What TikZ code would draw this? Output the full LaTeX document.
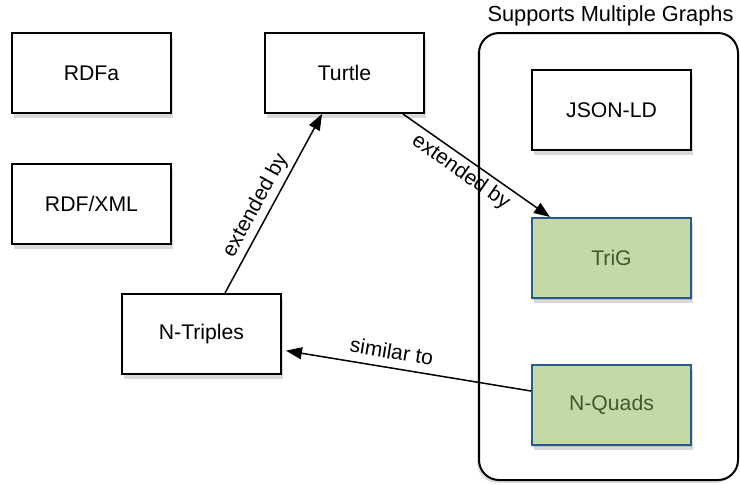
\documentclass[tikz,border=0pt]{standalone}
\usepackage{fontspec}
\setmainfont{Liberation Sans}
\usetikzlibrary{positioning,shadows,arrows.meta}
\definecolor{graphfill}{HTML}{C4D9A8}
\definecolor{graphline}{HTML}{2A5A8C}
\definecolor{graphtext}{HTML}{3F5A2E}
\tikzset{
  format/.style={draw=black, line width=1pt, fill=white,
    minimum width=79.5pt, minimum height=40pt, inner sep=0pt,
    font=\fontsize{10.6}{12}\selectfont,
    drop shadow={shadow xshift=1pt, shadow yshift=-2.5pt, opacity=0.3}},
  multi/.style={format, fill=graphfill, draw=graphline, text=graphtext,
    drop shadow={shadow xshift=0.5pt, shadow yshift=-1pt, opacity=0.3}},
  holder/.style={draw=black, line width=1pt, fill=white, rounded corners=10pt,
    minimum width=129.5pt, minimum height=223.5pt, inner sep=0pt,
    drop shadow={shadow xshift=-1pt, shadow yshift=-1.5pt, opacity=0.25}},
  rel/.style={-{Triangle[length=8pt, width=6pt]}, line width=0.75pt},
  rellabel/.style={font=\fontsize{10.5}{12}\selectfont, inner sep=2pt}
}
\begin{document}
\begin{tikzpicture}[x=0.5pt, y=-0.5pt]
  \useasboundingbox (0,0) rectangle (740,484);
  % container for the multi-graph formats
  \node[holder] (graphs) at (608.5,256.5) {};
  \node[anchor=south, inner sep=0pt, font=\fontsize{10.9}{12}\selectfont]
    (graphslabel) at ([xshift=1pt, yshift=3pt]graphs.north) {Supports Multiple Graphs};
  % formats
  \node[format] (rdfa) at (91.5,73) {RDFa};
  \node[format] (rdfxml) at (91.5,203.5) {RDF/XML};
  \node[format] (turtle) at (344.5,73) {Turtle};
  \node[format] (ntriples) at (201.5,334) {N-Triples};
  \node[format] (jsonld) at (611.5,110) {JSON-LD};
  \node[multi] (trig) at (611.5,258) {TriG};
  \node[multi] (nquads) at (611.5,405) {N-Quads};
  % relations
  \draw[rel] ([xshift=11.75pt]ntriples.north) -- ([xshift=-11.25pt]turtle.south)
    node[rellabel, pos=0.45, sloped, above] {extended by};
  \draw[rel] ([xshift=29.25pt]turtle.south) -- ([xshift=-30.75pt]trig.north)
    node[rellabel, pos=0.45, sloped, below] {extended by};
  \draw[rel, shorten >=2pt] ([yshift=7pt]nquads.west) -- ([yshift=-8pt]ntriples.east)
    node[rellabel, pos=0.57, sloped, above, inner sep=4pt] {similar to};
\end{tikzpicture}
\end{document}
